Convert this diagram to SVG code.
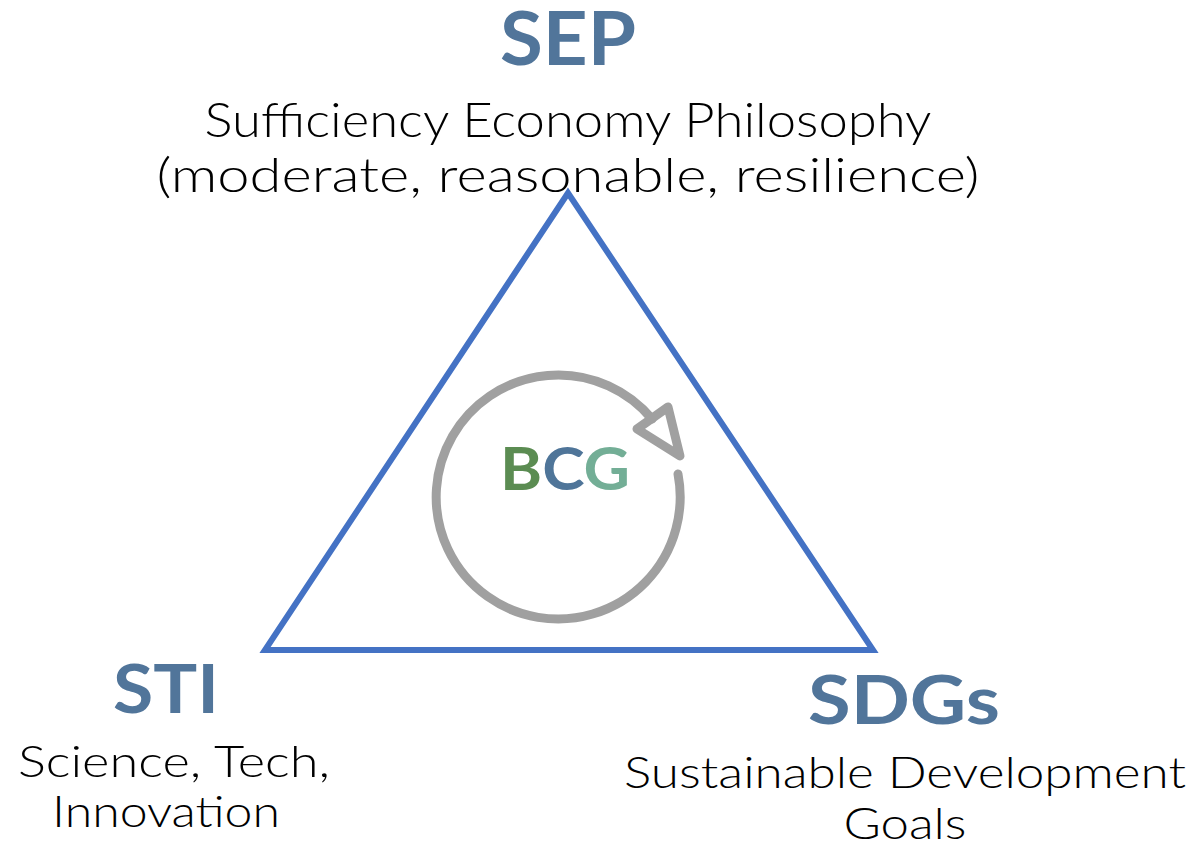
<svg xmlns="http://www.w3.org/2000/svg" width="1194" height="846" viewBox="0 0 1194 846">
<style>
.h{font-family:Lato,"Open Sans",sans-serif;font-weight:bold;fill:#51759A;text-anchor:middle}
.t{font-family:Lato,"Open Sans",sans-serif;font-weight:300;fill:#000;text-anchor:middle}
</style>
<rect width="1194" height="846" fill="#fff"/>
<g id="triangle">
<polygon points="568,193 265,650 873,650" fill="none" stroke="#4472C4" stroke-width="6" stroke-linejoin="miter"/>
</g>
<g id="sep">
<text class="h" x="568" y="65" font-size="74" textLength="136" lengthAdjust="spacingAndGlyphs">SEP</text>
<text class="t" x="568" y="137" font-size="48" textLength="727" lengthAdjust="spacingAndGlyphs">Sufficiency Economy Philosophy</text>
<text class="t" x="568" y="192" font-size="48" textLength="823" lengthAdjust="spacingAndGlyphs">(moderate, reasonable, resilience)</text>
</g>
<g id="sti">
<text class="h" x="166" y="713" font-size="66" textLength="106" lengthAdjust="spacingAndGlyphs">STI</text>
<text class="t" x="174" y="777" font-size="44" textLength="312" lengthAdjust="spacingAndGlyphs">Science, Tech,</text>
<text class="t" x="166" y="827" font-size="44" textLength="228" lengthAdjust="spacingAndGlyphs">Innovation</text>
</g>
<g id="sdgs">
<text class="h" x="904" y="724" font-size="66" textLength="192" lengthAdjust="spacingAndGlyphs">SDGs</text>
<text class="t" x="905" y="788" font-size="44" textLength="562" lengthAdjust="spacingAndGlyphs">Sustainable Development</text>
<text class="t" x="905" y="839" font-size="44" textLength="123" lengthAdjust="spacingAndGlyphs">Goals</text>
</g>
<g id="bcg">
<path d="M 678 474 A 122 122 0 1 1 652 419" fill="none" stroke="#A0A0A0" stroke-width="9" stroke-linecap="round"/>
<polygon points="637,429 668,407 680,456" fill="none" stroke="#A0A0A0" stroke-width="9" stroke-linejoin="round"/>
<text x="565" y="490" font-family="Lato,'Open Sans',sans-serif" font-weight="bold" font-size="60" text-anchor="middle" textLength="130" lengthAdjust="spacingAndGlyphs"><tspan fill="#5B8C52">B</tspan><tspan fill="#4F7599">C</tspan><tspan fill="#73AE96">G</tspan></text>
</g>
</svg>
